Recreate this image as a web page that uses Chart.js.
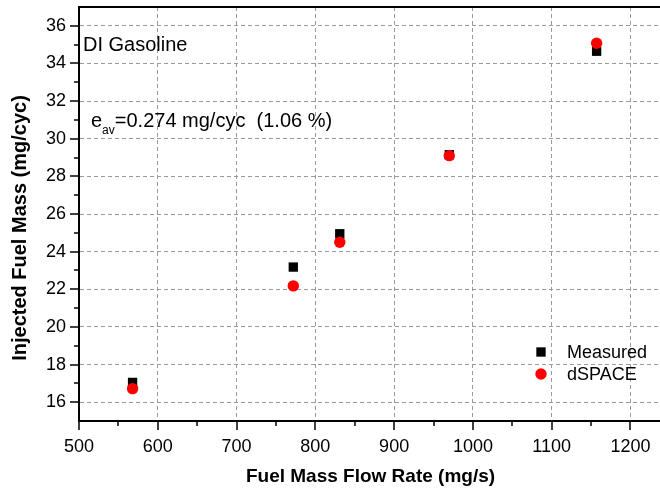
<!DOCTYPE html>
<html>
<head>
<meta charset="utf-8">
<title>Injected fuel mass vs. fuel mass flow rate</title>
<script src="https://cdn.jsdelivr.net/npm/chart.js@4.4.1/dist/chart.umd.min.js"></script>
<style>
  html, body { margin: 0; padding: 0; background: #fff; overflow: hidden; }
  #wrap { width: 662px; height: 490px; }
</style>
</head>
<body>
<div id="wrap"><canvas id="fuelChart" width="662" height="490"></canvas></div>
<script>
'use strict';

const FONT = "'Liberation Sans', Arial, Helvetica, sans-serif";

// fuel mass flow rate (mg/s) and injected mass per cycle (mg/cyc)
const flowRate = [568, 772, 831, 970, 1157];
const measuredMass = [17.05, 23.18, 24.95, 29.15, 34.65];
const dspaceMass = [16.72, 22.18, 24.5, 29.1, 35.07];

const xTicks = [500, 600, 700, 800, 900, 1000, 1100, 1200];
const xMinor = [550, 650, 750, 850, 950, 1050, 1150];
const yTicks = [16, 18, 20, 22, 24, 26, 28, 30, 32, 34, 36];
const yMinor = [17, 19, 21, 23, 25, 27, 29, 31, 33, 35];

const yTitle = 'Injected Fuel Mass (mg/cyc)';

const toPoints = (xs, ys) => xs.map((x, i) => ({ x, y: ys[i] }));

// frame on top, outward major/minor tick marks, legend, y title and text notes
const plotDecor = {
  id: 'plotDecor',
  afterDraw(chart) {
    const { ctx, chartArea: a, scales: { x, y } } = chart;
    ctx.save();
    ctx.strokeStyle = '#000';

    ctx.lineWidth = 2;
    ctx.beginPath();
    ctx.moveTo(a.left - 1, a.top);
    ctx.lineTo(a.right, a.top);
    ctx.stroke();

    ctx.lineWidth = 1.5;
    const seg = (x1, y1, x2, y2) => {
      ctx.beginPath();
      ctx.moveTo(x1, y1);
      ctx.lineTo(x2, y2);
      ctx.stroke();
    };
    xTicks.forEach(v => { const px = Math.round(x.getPixelForValue(v)); seg(px, a.bottom, px, a.bottom + 9); });
    xMinor.forEach(v => { const px = Math.round(x.getPixelForValue(v)); seg(px, a.bottom, px, a.bottom + 5); });
    yTicks.forEach(v => { const py = Math.round(y.getPixelForValue(v)); seg(a.left - 9, py, a.left, py); });
    yMinor.forEach(v => { const py = Math.round(y.getPixelForValue(v)); seg(a.left - 5, py, a.left, py); });

    // legend
    const lx = a.right - 121;
    const ly = a.top + 345;
    chart.data.datasets.forEach((ds, i) => {
      const cy = ly + i * 22;
      ctx.fillStyle = ds.backgroundColor;
      Chart.helpers.drawPoint(ctx, { pointStyle: ds.pointStyle, radius: ds.pointRadius, rotation: 0, borderWidth: 0 }, lx, cy);
      ctx.fillStyle = '#000';
      ctx.font = '18px ' + FONT;
      ctx.textAlign = 'left';
      ctx.textBaseline = 'alphabetic';
      ctx.fillText(ds.label, lx + 26, cy + 6);
    });

    // notes
    ctx.fillStyle = '#000';
    ctx.textAlign = 'left';
    ctx.textBaseline = 'alphabetic';
    ctx.font = '20px ' + FONT;
    ctx.fillText('DI Gasoline', a.left + 4, a.top + 44);

    let tx = a.left + 12;
    const by = a.top + 120;
    ctx.fillText('e', tx, by);
    tx += ctx.measureText('e').width;
    ctx.font = '12px ' + FONT;
    ctx.fillText('av', tx, by + 7);
    tx += ctx.measureText('av').width;
    ctx.font = '20px ' + FONT;
    ctx.fillText('=0.274 mg/cyc  (1.06 %)', tx, by);

    // y axis title, rotated
    ctx.translate(26, (a.top + a.bottom) / 2 + 14);
    ctx.rotate(-Math.PI / 2);
    ctx.textAlign = 'center';
    ctx.font = 'bold 20px ' + FONT;
    ctx.fillText(yTitle, 0, 0);

    ctx.restore();
  }
};

new Chart(document.getElementById('fuelChart').getContext('2d'), {
  type: 'scatter',
  data: {
    datasets: [
      {
        label: 'Measured',
        data: toPoints(flowRate, measuredMass),
        pointStyle: 'rect',
        pointRadius: 6.6,
        backgroundColor: '#000000',
        borderColor: '#000000',
        borderWidth: 0,
        order: 2,
      },
      {
        label: 'dSPACE',
        data: toPoints(flowRate, dspaceMass),
        pointStyle: 'circle',
        pointRadius: 5.7,
        backgroundColor: '#ff0000',
        borderColor: '#ff0000',
        borderWidth: 0,
        order: 1,
      }
    ]
  },
  options: {
    responsive: false,
    animation: false,
    devicePixelRatio: 1,
    layout: { autoPadding: false, padding: { top: 7, right: 0, bottom: 0, left: 0 } },
    plugins: {
      legend: { display: false },
      tooltip: { enabled: false },
    },
    scales: {
      x: {
        type: 'linear',
        min: 500,
        max: 1240,
        afterFit: (s) => { s.height = 69; s.paddingLeft = 0; s.paddingRight = 0; },
        afterBuildTicks: (s) => { s.ticks = xTicks.map(v => ({ value: v })); },
        grid: { color: '#9a9a9a', lineWidth: 1, drawTicks: false },
        border: { display: true, color: '#000', width: 2, dash: [4, 3] },
        ticks: {
          color: '#000',
          font: { family: FONT, size: 18 },
          padding: 15,
          maxRotation: 0,
          autoSkip: false,
          callback: (v) => String(v),
        },
        title: {
          display: true,
          text: 'Fuel Mass Flow Rate (mg/s)',
          color: '#000',
          font: { family: FONT, size: 19, weight: 'bold', lineHeight: 1.2 },
          padding: { top: 0, bottom: 2 },
        },
      },
      y: {
        type: 'linear',
        min: 15,
        max: 37,
        afterFit: (s) => { s.width = 79; s.paddingTop = 0; s.paddingBottom = 0; },
        afterBuildTicks: (s) => { s.ticks = yTicks.map(v => ({ value: v })); },
        grid: { color: '#9a9a9a', lineWidth: 1, drawTicks: false },
        border: { display: true, color: '#000', width: 2, dash: [4, 3] },
        ticks: {
          color: '#000',
          font: { family: FONT, size: 18 },
          padding: 13,
          autoSkip: false,
          callback: (v) => String(v),
        },
      },
    },
  },
  plugins: [plotDecor],
});
</script>
</body>
</html>
